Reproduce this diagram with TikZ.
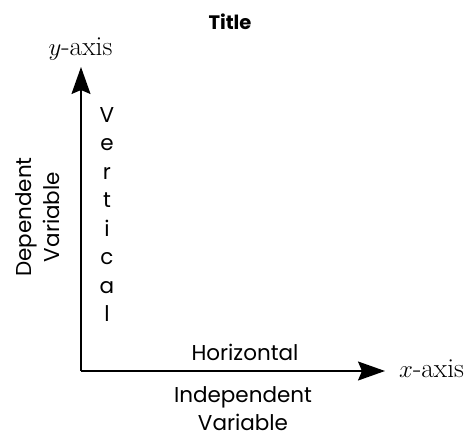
\documentclass[tikz,border=0pt]{standalone}
\usepackage{fontspec}
\setsansfont{Poppins}
\usepackage{tikz}
\usetikzlibrary{arrows.meta,positioning}
\tikzstyle{axisarrow} = [line width=1.6pt,-{Stealth[length=27pt,width=19pt,inset=4pt]}]
\tikzset{
 lbl/.style
  = {inner sep=0pt, font=\sffamily\fontsize{21.5}{28}\selectfont},
 ttl/.style
  = {inner sep=0pt, font=\sffamily\bfseries\fontsize{19.5}{23}\selectfont},
 axl/.style
  = {inner sep=0pt, font=\fontsize{27.5}{30}\selectfont},
}

\begin{document}
\begin{tikzpicture}[x=1pt,y=-1pt]
\useasboundingbox (0,0) rectangle (469,439);

% Axes
\coordinate (O) at (81,371);
\coordinate (ytip) at (81,67);
\coordinate (xtip) at (385,371);
\draw[axisarrow] (O) -- (ytip);
\draw[axisarrow] (O) -- (xtip);

% Title
\node[ttl,anchor=base] (title) at (230,29) {Title};

% Axis names
\node[axl,anchor=base] (ylab) at (80.5,55) {$y$-axis};
\node[axl,anchor=base west] (xlab) at (399,377) {$x$-axis};

% Vertical
\foreach \l [count=\i] in {V,e,r,t,i,c,a,l}
  \node[lbl,anchor=base] (v\i) at (107,{122+28.5*(\i-1)}) {\l};

% Horizontal
\node[lbl,anchor=base] (horiz) at (245,360) {Horizontal};

% Variable labels
\node[lbl,align=center,anchor=south] (indep) at (243,431) {Independent\\Variable};
\node[lbl,align=center,rotate=90] (dep) at (38,217) {Dependent\\Variable};

\end{tikzpicture}
\end{document}
